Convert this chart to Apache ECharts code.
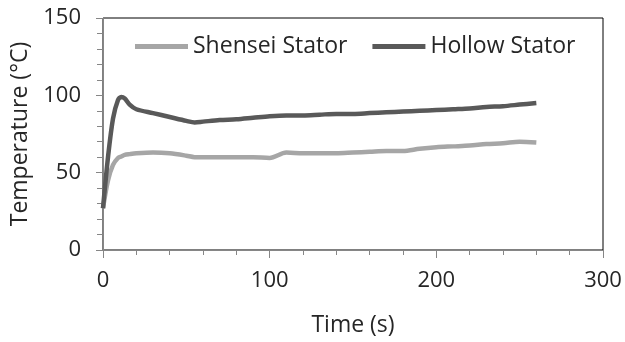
<!DOCTYPE html>
<html>
<head>
<meta charset="utf-8">
<script src="https://cdn.jsdelivr.net/npm/echarts@6/dist/echarts.min.js"></script>
<style>
  html, body { margin: 0; padding: 0; background: #fff; }
  #chart { width: 625px; height: 342px; }
</style>
</head>
<body>
<div id="chart"></div>
<script>
// time in seconds, temperatures
var timeS = [0, 3, 6, 9, 11, 13, 16, 20, 30, 40, 50, 55, 60, 70, 80, 90, 100, 110, 120, 130, 140, 150, 160, 170, 180, 190, 200, 210, 220, 230, 240, 250, 260];
var shenseiTemp = [27, 45, 55, 59.5, 60.5, 61.5, 62, 62.5, 63, 62.5, 61, 60, 60, 60, 60, 60, 59.5, 63, 62.5, 62.5, 62.5, 63, 63.5, 64, 64, 65.5, 66.5, 67, 67.5, 68.5, 69, 70, 69.5];
var hollowTemp = [27, 60, 85, 97, 99, 98, 94, 91, 88.5, 86, 83.5, 82.5, 83, 84, 84.5, 85.5, 86.5, 87, 87, 87.5, 88, 88, 88.5, 89, 89.5, 90, 90.5, 91, 91.5, 92.5, 93, 94, 95];
var seriesNames = ['Shensei Stator', 'Hollow Stator'];

function pairs(xs, ys) {
  return xs.map(function (x, i) { return [x, ys[i]]; });
}

var font = '"Open Sans", "DejaVu Sans", sans-serif';
var txt = '#262626';

var option = {
  animation: false,
  color: ['#a6a6a6', '#595959'],
  grid: {
    left: 103, right: 22, top: 18, bottom: 92,
    show: true, borderColor: '#000', borderWidth: 1
  },
  legend: {
    data: seriesNames,
    left: 130, top: 30,
    itemWidth: 53, itemHeight: 5, itemGap: 25,
    icon: 'rect',
    textStyle: { fontFamily: font, fontSize: 23, color: txt }
  },
  xAxis: {
    type: 'value', min: 0, max: 300, interval: 100,
    name: 'Time (s)', nameLocation: 'middle', nameGap: 64,
    nameTextStyle: { fontFamily: font, fontSize: 23, color: txt },
    axisLine: { show: true, lineStyle: { color: '#868686', width: 1 } },
    axisTick: { show: true, length: 8, lineStyle: { color: '#868686' } },
    minorTick: { show: true, splitNumber: 5, length: 5, lineStyle: { color: '#868686' } },
    splitLine: { show: false },
    axisLabel: { fontFamily: font, fontSize: 22, color: txt, margin: 20 }
  },
  yAxis: {
    type: 'value', min: 0, max: 150, interval: 50,
    name: 'Temperature (°C)', nameLocation: 'middle', nameGap: 70,
    nameTextStyle: { fontFamily: font, fontSize: 23, color: txt },
    axisLine: { show: true, lineStyle: { color: '#868686', width: 1 } },
    axisTick: { show: true, length: 7, lineStyle: { color: '#868686' } },
    minorTick: { show: true, splitNumber: 5, length: 6, lineStyle: { color: '#868686' } },
    splitLine: { show: false },
    axisLabel: { fontFamily: font, fontSize: 22, color: txt, margin: 22 }
  },
  series: [
    {
      name: seriesNames[0], type: 'line', smooth: 0.3, showSymbol: false,
      lineStyle: { width: 4.5, color: '#a6a6a6' },
      data: pairs(timeS, shenseiTemp)
    },
    {
      name: seriesNames[1], type: 'line', smooth: 0.3, showSymbol: false,
      lineStyle: { width: 4.5, color: '#595959' },
      data: pairs(timeS, hollowTemp)
    }
  ]
};

var myChart = echarts.init(document.getElementById('chart'));
myChart.setOption(option);
</script>
</body>
</html>
